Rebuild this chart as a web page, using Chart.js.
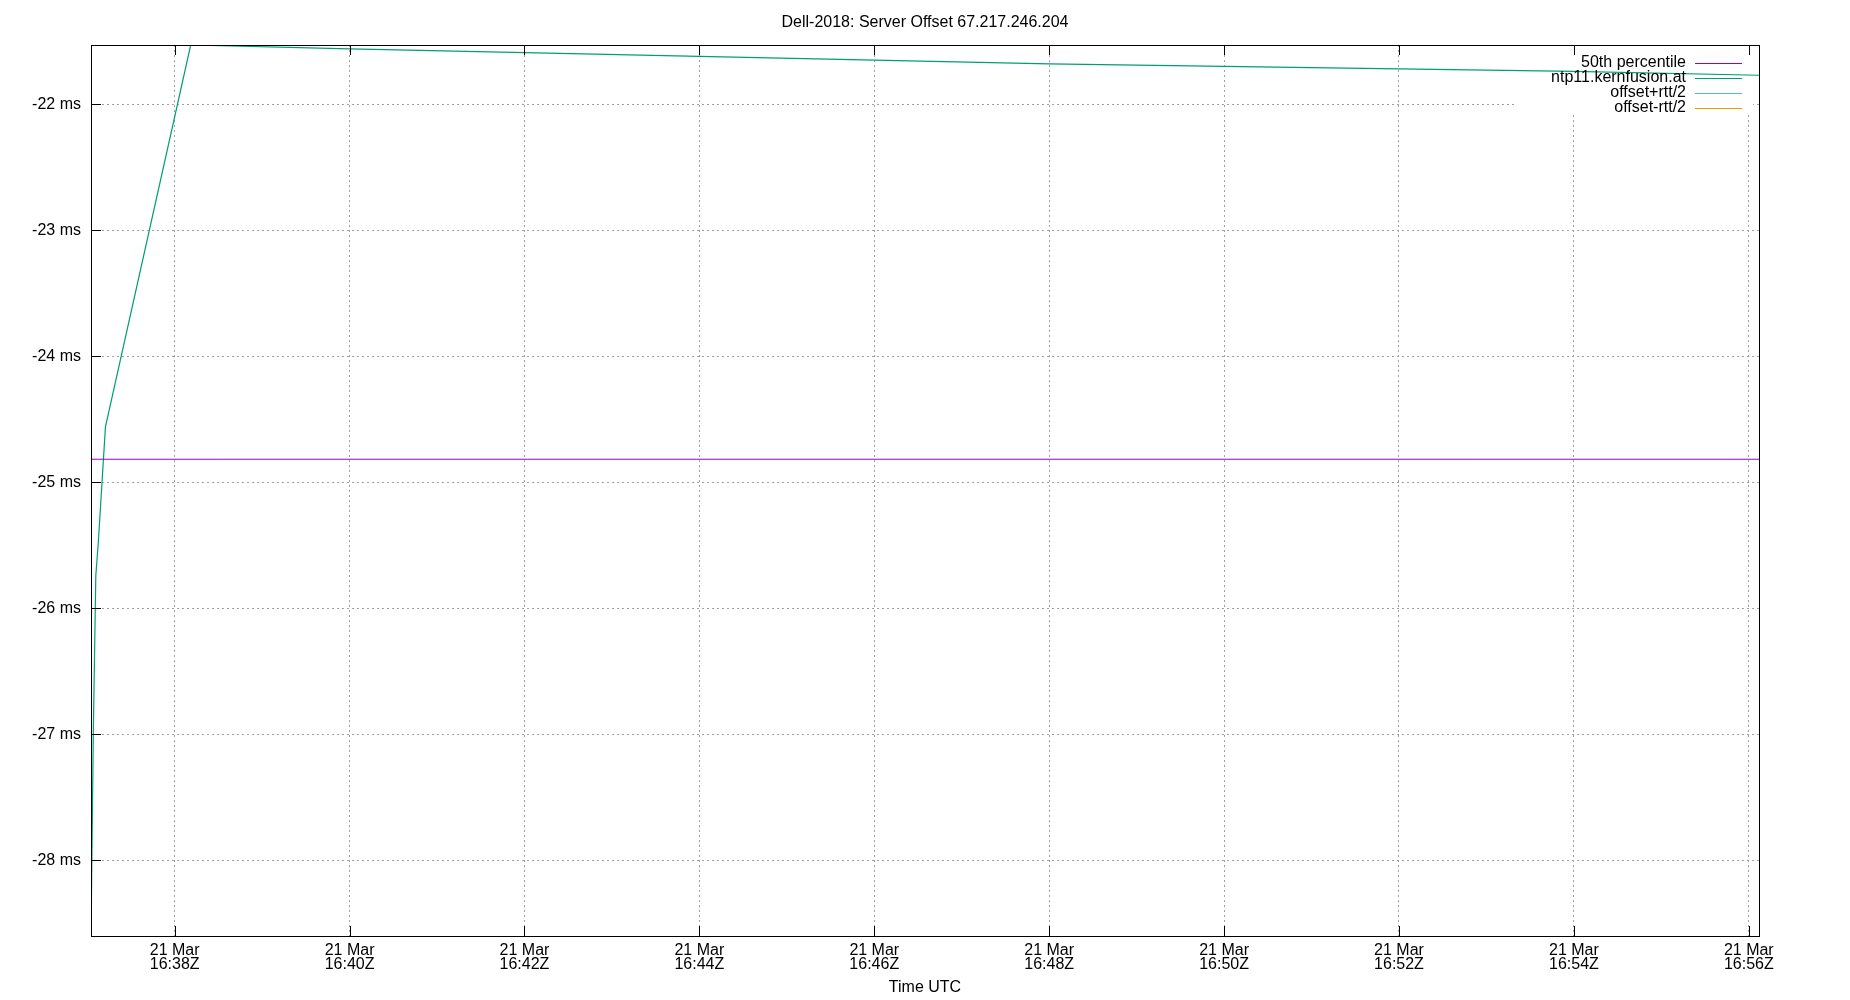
<!DOCTYPE html>
<html><head><meta charset="utf-8">
<script src="https://cdn.jsdelivr.net/npm/chart.js@4/dist/chart.umd.min.js"></script>
<style>html,body{margin:0;padding:0;background:#fff}#wrap{width:1850px;height:1000px;position:relative}</style>
</head><body><div id="wrap"><canvas id="c"></canvas></div>
<script>
const chartTitle = 'Dell-2018: Server Offset 67.217.246.204';
const xAxisTitle = 'Time UTC';
const seriesNames = ['50th percentile', 'ntp11.kernfusion.at', 'offset+rtt/2', 'offset-rtt/2'];
const seriesColors = ['#9400d3', '#009e73', '#56b4e9', '#e69f00'];

// ntp11.kernfusion.at offset (ms)
const offsetTimes = ['16:37:02.6', '16:37:04.2', '16:37:05.9', '16:37:07.6', '16:37:12.5', '16:38:11',
  '16:40:00', '16:42:00', '16:44:00', '16:46:00', '16:48:00', '16:50:00', '16:52:00', '16:54:00', '16:56:07'];
const offsetValues = [-28.60, -26.98, -25.74, -25.48, -24.56, -21.53,
  -21.56, -21.59, -21.62, -21.65, -21.68, -21.70, -21.72, -21.74, -21.77];

// 50th percentile (ms)
const medianValue = -24.817;

// offset +/- rtt/2: no points inside the visible range
const plusRttTimes = [];
const plusRttValues = [];
const minusRttTimes = [];
const minusRttValues = [];

const xTickDate = '21 Mar';
const xTickTimes = ['16:38', '16:40', '16:42', '16:44', '16:46', '16:48', '16:50', '16:52', '16:54', '16:56'];
const yTicks = [-28, -27, -26, -25, -24, -23, -22];

const toSec = s => { const p = s.split(':').map(Number); return p[0] * 3600 + p[1] * 60 + (p[2] || 0); };
const pad2 = n => String(n).padStart(2, '0');
const fmtHM = v => pad2(Math.floor(v / 3600)) + ':' + pad2(Math.floor((v % 3600) / 60));
const pts = (ts, vs) => ts.map((t, i) => ({ x: toSec(t), y: vs[i] }));

const xMin = toSec(offsetTimes[0]);
const xMax = toSec(offsetTimes[offsetTimes.length - 1]);
const yMin = Math.min(...offsetValues);
const yMax = Math.max(...offsetValues);

const FONT = 'Liberation Sans, Arial, sans-serif';

const gnuplotDecor = {
  id: 'gnuplotDecor',
  beforeDatasetsDraw(chart) {
    const { ctx, chartArea: a } = chart;
    ctx.save();
    ctx.fillStyle = '#fff';
    ctx.fillRect(a.right - 243, a.top + 1, 237, 69);
    ctx.restore();
  },
  afterDatasetsDraw(chart) {
    const { ctx, chartArea: a, scales } = chart;
    ctx.save();
    ctx.strokeStyle = '#000';
    ctx.lineWidth = 1;
    ctx.setLineDash([]);
    ctx.strokeRect(Math.round(a.left) + 0.5, Math.round(a.top) + 0.5, Math.round(a.right - a.left), Math.round(a.bottom - a.top));
    ctx.beginPath();
    scales.x.ticks.forEach(t => {
      const px = Math.round(scales.x.getPixelForValue(t.value)) + 0.5;
      ctx.moveTo(px, a.bottom); ctx.lineTo(px, a.bottom - 10);
      ctx.moveTo(px, a.top); ctx.lineTo(px, a.top + 10);
    });
    scales.y.ticks.forEach(t => {
      const py = Math.round(scales.y.getPixelForValue(t.value)) + 0.5;
      ctx.moveTo(a.left, py); ctx.lineTo(a.left + 10, py);
    });
    ctx.stroke();
    // legend
    ctx.font = '16px ' + FONT;
    ctx.fillStyle = '#000';
    ctx.textAlign = 'right';
    ctx.textBaseline = 'middle';
    chart.data.datasets.forEach((ds, i) => {
      const y = a.top + 18 + i * 15;
      ctx.fillText(ds.label, a.right - 73, y);
      ctx.strokeStyle = ds.borderColor;
      ctx.lineWidth = 1.2;
      ctx.beginPath();
      ctx.moveTo(a.right - 64, y + 0.5); ctx.lineTo(a.right - 17, y + 0.5);
      ctx.stroke();
    });
    ctx.restore();
  }
};

new Chart(document.getElementById('c'), {
  type: 'line',
  data: {
    datasets: [
      { label: seriesNames[0], data: [{ x: xMin, y: medianValue }, { x: xMax, y: medianValue }], borderColor: seriesColors[0], borderWidth: 1 },
      { label: seriesNames[1], data: pts(offsetTimes, offsetValues), borderColor: seriesColors[1], borderWidth: 1.2 },
      { label: seriesNames[2], data: pts(plusRttTimes, plusRttValues), borderColor: seriesColors[2], borderWidth: 1 },
      { label: seriesNames[3], data: pts(minusRttTimes, minusRttValues), borderColor: seriesColors[3], borderWidth: 1 }
    ]
  },
  options: {
    responsive: true,
    maintainAspectRatio: false,
    animation: false,
    parsing: false,
    elements: { point: { radius: 0 }, line: { tension: 0 } },
    layout: { padding: { left: 0, right: 0, top: 0, bottom: 0 } },
    plugins: {
      legend: { display: false },
      tooltip: { enabled: false },
      title: {
        display: true, text: chartTitle, color: '#000',
        font: { family: FONT, size: 16, weight: 'normal', lineHeight: 1.2 },
        padding: { top: 12.6, bottom: 13.2 }
      }
    },
    scales: {
      x: {
        type: 'linear', min: xMin, max: xMax,
        afterBuildTicks: s => { s.ticks = xTickTimes.map(t => ({ value: toSec(t) })); },
        afterFit: s => { s.height = 64; },
        ticks: {
          autoSkip: false, maxRotation: 0, minRotation: 0, color: '#000', padding: 7,
          font: { family: FONT, size: 16, lineHeight: 0.9 },
          callback: v => [xTickDate, fmtHM(v) + 'Z']
        },
        grid: { color: '#a0a0a0', lineWidth: 1, drawTicks: false },
        border: { display: true, color: '#000', width: 1, dash: [2, 3] },
        title: {
          display: true, text: xAxisTitle, color: '#000',
          font: { family: FONT, size: 16, lineHeight: 1.2 },
          padding: { top: 0, bottom: 3 }
        }
      },
      y: {
        type: 'linear', position: 'left', min: yMin, max: yMax,
        afterBuildTicks: s => { s.ticks = yTicks.map(v => ({ value: v })); },
        afterFit: s => { s.width = 91; },
        ticks: {
          color: '#000', padding: 10,
          font: { family: FONT, size: 16 },
          callback: v => v + ' ms'
        },
        grid: { color: '#a0a0a0', lineWidth: 1, drawTicks: false },
        border: { display: true, color: '#000', width: 1, dash: [2, 3] }
      },
      yRight: {
        type: 'linear', position: 'right', min: yMin, max: yMax,
        afterFit: s => { s.width = 91; },
        ticks: { display: false },
        grid: { display: false, drawTicks: false },
        border: { display: false }
      }
    }
  },
  plugins: [gnuplotDecor]
});
</script>
</body></html>
